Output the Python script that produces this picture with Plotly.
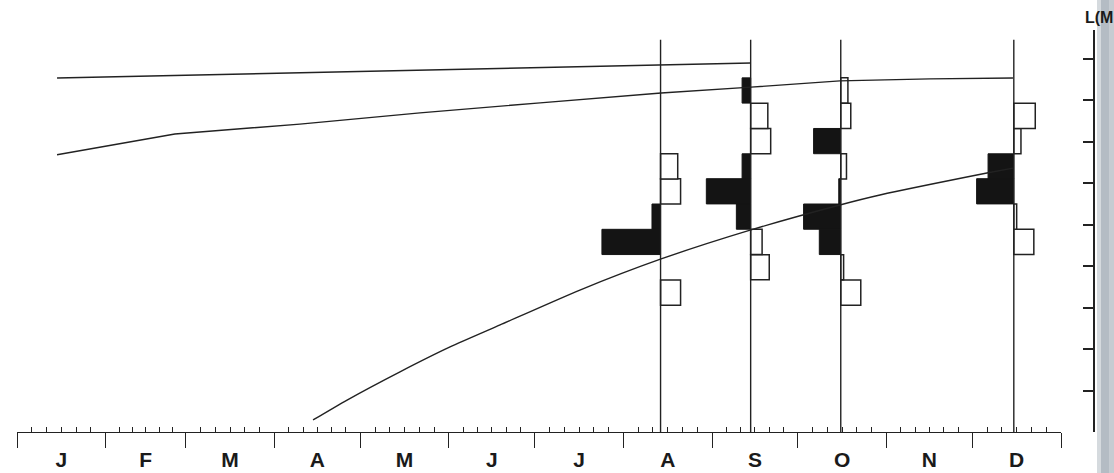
import plotly.graph_objects as go

# ---------------- data ----------------
MONTH_LABELS = ["J", "F", "M", "A", "M", "J", "J", "A", "S", "O", "N", "D"]
MONTH_STARTS = [0, 31, 59, 90, 120, 151, 181, 212, 243, 273, 304, 334, 365]  # day of year

# sampling dates (day of year): 13 Aug, 13 Sep, 15 Oct, 14 Dec
SAMPLE_DAYS = [225, 256.5, 288, 348.5]
SAMPLE_LINE_TOP = 94.5  # length reached by the sampling lines (mm)

# length classes (mid-points, mm) and class width
LENGTH_CLASSES = [33.6, 39.7, 45.8, 51.9, 58.0, 64.0, 70.1, 76.2, 82.3]
CLASS_WIDTH = 6.08

# frequencies per length class (black = one cohort, drawn to the left; white = other, to the right)
BLACK_AUG = [0, 0, 20.5, 3.0, 0, 0, 0, 0, 0]
WHITE_AUG = [7.0, 0, 0, 0, 7.0, 6.0, 0, 0, 0]
BLACK_SEP = [0, 0, 0, 5.0, 15.5, 3.0, 0, 0, 3.0]
WHITE_SEP = [0, 6.5, 4.0, 0, 0, 0, 7.0, 6.0, 0]
BLACK_OCT = [0, 0, 7.5, 13.0, 0.7, 0, 9.5, 0, 0]
WHITE_OCT = [7.0, 1.0, 0, 0, 0, 2.0, 0, 3.5, 2.5]
BLACK_DEC = [0, 0, 0, 0, 13.0, 9.0, 0, 0, 0]
WHITE_DEC = [0, 0, 7.0, 1.0, 0, 0, 2.5, 7.5, 0]

# growth curves (day of year, length mm)
TOP_DAYS = [14.0, 256.6]
TOP_LEN = [85.3, 88.9]
MID_DAYS = [14.0, 55.2, 98.9, 140.9, 182.9, 225.2, 256.6, 287.7, 319.2, 348.2]
MID_LEN = [66.8, 71.8, 74.2, 76.9, 79.3, 81.7, 83.1, 84.6, 85.1, 85.3]
LOW_DAYS = [103.5, 115.4, 133.9, 151.4, 168.9, 196.8, 225.2, 256.6, 287.7, 301.7, 339.1, 348.2]
LOW_LEN = [2.9, 7.7, 14.5, 20.5, 25.8, 34.2, 41.7, 48.7, 54.7, 57.1, 62.4, 63.6]

Y_TICKS = [0, 10, 20, 30, 40, 50, 60, 70, 80, 90]

# ---------------- figure ----------------
W, H = 1114, 473
LINE_COL = "#222222"
fig = go.Figure()

# sampling vertical lines
vx, vy = [], []
for d in SAMPLE_DAYS:
    vx += [d, d, None]
    vy += [0, SAMPLE_LINE_TOP, None]
fig.add_trace(go.Scatter(x=vx, y=vy, mode="lines", line=dict(color=LINE_COL, width=1.4),
                         hoverinfo="skip", showlegend=False))

# growth curves
fig.add_trace(go.Scatter(x=TOP_DAYS, y=TOP_LEN, mode="lines", line=dict(color=LINE_COL, width=1.4),
                         showlegend=False))
fig.add_trace(go.Scatter(x=MID_DAYS, y=MID_LEN, mode="lines", line=dict(color=LINE_COL, width=1.4),
                         showlegend=False))
fig.add_trace(go.Scatter(x=LOW_DAYS, y=LOW_LEN, mode="lines",
                         line=dict(color=LINE_COL, width=1.4, shape="spline", smoothing=0.6),
                         showlegend=False))

# histograms
black_sets = [BLACK_AUG, BLACK_SEP, BLACK_OCT, BLACK_DEC]
white_sets = [WHITE_AUG, WHITE_SEP, WHITE_OCT, WHITE_DEC]
for day, blk, wht in zip(SAMPLE_DAYS, black_sets, white_sets):
    by = [c for c, f in zip(LENGTH_CLASSES, blk) if f > 0]
    bx = [-f for f in blk if f > 0]
    fig.add_trace(go.Bar(orientation="h", y=by, x=bx, base=day, width=CLASS_WIDTH,
                         marker=dict(color="#141414", line=dict(color="#141414", width=1)),
                         showlegend=False))
    wy = [c for c, f in zip(LENGTH_CLASSES, wht) if f > 0]
    wx = [f for f in wht if f > 0]
    fig.add_trace(go.Bar(orientation="h", y=wy, x=wx, base=day, width=CLASS_WIDTH,
                         marker=dict(color="white", line=dict(color=LINE_COL, width=1.5)),
                         showlegend=False))

# minor ticks: five per month
minor = []
for s, e in zip(MONTH_STARTS[:-1], MONTH_STARTS[1:]):
    minor += [s + (e - s) * k / 6 for k in range(1, 6)]
month_mid = [(s + e) / 2 for s, e in zip(MONTH_STARTS[:-1], MONTH_STARTS[1:])]

# dummy trace so the label axis is drawn
fig.add_trace(go.Scatter(x=month_mid, y=[None] * 12, xaxis="x2", yaxis="y", mode="markers",
                         showlegend=False, hoverinfo="skip"))

x_dom = [17 / W, 1061 / W]
fig.update_layout(
    width=W, height=H,
    margin=dict(l=0, r=0, t=0, b=0),
    paper_bgcolor="white", plot_bgcolor="white",
    barmode="overlay",
    showlegend=False,
    xaxis=dict(domain=x_dom, range=[0, 365], anchor="y", side="bottom",
               showline=True, linecolor=LINE_COL, linewidth=1.4,
               ticks="outside", ticklen=15, tickwidth=1.4, tickcolor=LINE_COL,
               tickmode="array", tickvals=MONTH_STARTS, showticklabels=False,
               minor=dict(ticks="inside", ticklen=5, tickwidth=1, tickcolor=LINE_COL,
                          tickmode="array", tickvals=minor),
               showgrid=False, zeroline=False),
    xaxis2=dict(overlaying="x", matches="x", range=[0, 365], anchor="y", side="bottom",
                showline=False, ticks="outside", ticklen=9, tickcolor="rgba(0,0,0,0)",
                tickmode="array", tickvals=month_mid, ticktext=MONTH_LABELS,
                tickfont=dict(family="Liberation Sans, Arial", size=21, color="#1a1a1a", weight="bold"),
                showgrid=False, zeroline=False),
    yaxis=dict(domain=[(H - 432) / H, (H - 30) / H], range=[0, 96.87],
               anchor="free", position=1094 / W, side="right",
               showline=True, linecolor=LINE_COL, linewidth=1.5,
               ticks="inside", ticklen=10, tickwidth=1.5, tickcolor=LINE_COL,
               tickmode="array", tickvals=Y_TICKS, showticklabels=False,
               showgrid=False, zeroline=False),
    shapes=[
        dict(type="rect", xref="paper", yref="paper", x0=1097 / W, x1=1101 / W, y0=0, y1=1,
             fillcolor="#d5dade", line=dict(width=0), layer="above"),
        dict(type="rect", xref="paper", yref="paper", x0=1101 / W, x1=1109 / W, y0=0, y1=1,
             fillcolor="#b4bcc4", line=dict(width=0), layer="above"),
        dict(type="rect", xref="paper", yref="paper", x0=1109 / W, x1=1.0, y0=0, y1=1,
             fillcolor="#c6ccd2", line=dict(width=0), layer="above"),
    ],
    annotations=[
        dict(text="L(M", xref="paper", yref="paper", x=1083 / W, y=1 - 18 / H,
             xanchor="left", yanchor="middle", showarrow=False,
             font=dict(family="Liberation Sans, Arial", size=16, color="#1a1a1a", weight="bold")),
    ],
)

fig.write_html("out.html", config={"displayModeBar": False},
               post_script="document.body.style.margin='0px';document.body.style.overflow='hidden';")
